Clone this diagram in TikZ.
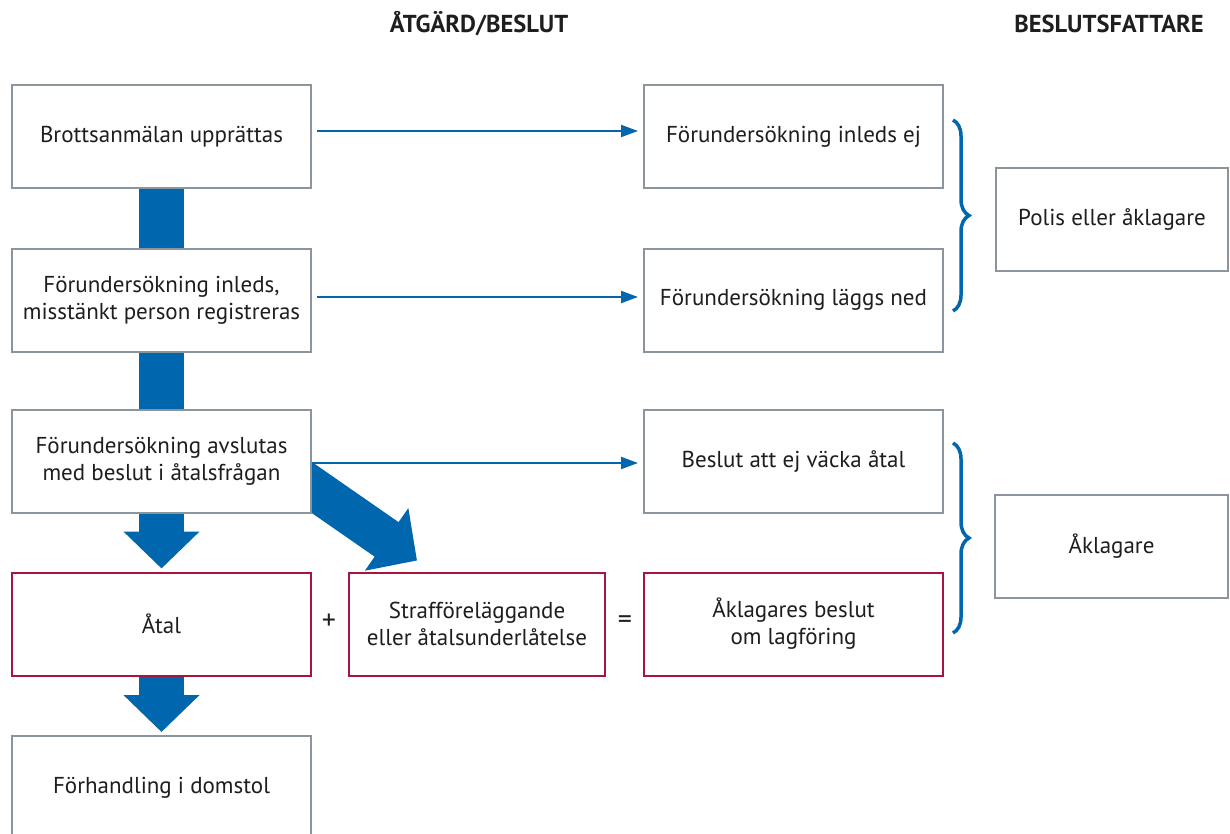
\documentclass[tikz,border=0pt]{standalone}
\usepackage{fontspec}
\setmainfont{PT Sans}
\usetikzlibrary{arrows.meta,decorations.pathreplacing,calc}
\pgfdeclarelayer{bg}
\pgfsetlayers{bg,main}
\definecolor{fblue}{HTML}{0066AE}
\definecolor{fgray}{HTML}{8C949D}
\definecolor{fred}{HTML}{A8133F}
\definecolor{ftext}{HTML}{1E1E1E}
\begin{document}
\begin{tikzpicture}[x=1pt,y=-1pt,
 box/.style={draw=fgray, line width=2pt, fill=white, minimum width=299pt, minimum height=103pt, align=center, font=\fontsize{23}{27}\selectfont, text=ftext, inner sep=0pt},
 rbox/.style={box, draw=fred},
 hdr/.style={font=\fontsize{24.5}{28}\selectfont\bfseries, text=ftext},
 thinarrow/.style={draw=fblue, line width=2pt, -{Triangle[length=17pt,width=12pt]}},
 bar/.style={draw=fblue, line width=45pt},
 fat/.style={draw=fblue, line width=45pt, -{Triangle[length=37pt,width=74pt]}},
 bracestyle/.style={draw=fblue, line width=3.5pt, decorate, decoration={brace, amplitude=16pt}},
 op/.style={font=\fontsize{28}{30}\selectfont, text=ftext}
]
\path[use as bounding box] (0,0) rectangle (1230,834);
\clip (0,0) rectangle (1230,834);

\node[hdr] (h1) at (479,24) {ÅTGÄRD/BESLUT};
\node[hdr] (h2) at (1109,24) {BESLUTSFATTARE};

\node[box] (b1) at (161.5,136.5) {Brottsanmälan upprättas};
\node[box] (b2) at (161.5,300) {Förundersökning inleds,\\misstänkt person registreras};
\node[box] (b3) at (161.5,461.5) {Förundersökning avslutas\\med beslut i åtalsfrågan};
\node[rbox] (atal) at (161.5,624) {Åtal};
\node[box] (forh) at (161.5,787.5) {Förhandling i domstol};

\node[box] (m1) at (793.5,136.5) {Förundersökning inleds ej};
\node[box] (m2) at (793.5,300) {Förundersökning läggs ned};
\node[box] (m3) at (793.5,461.5) {Beslut att ej väcka åtal};
\node[rbox] (m4) at (793.5,624) {Åklagares beslut\\om lagföring};
\node[rbox, minimum width=256pt] (straff) at (477,624) {Strafföreläggande\\eller åtalsunderlåtelse};

\node[box, minimum width=232pt] (polis) at (1112,219.5) {Polis eller åklagare};
\node[box, minimum width=233pt] (akl) at (1111.5,546) {Åklagare};

\node[op] (plus) at (329,622) {+};
\node[op] (eq) at (625,622) {=};

\coordinate (dstart) at ($(b3.east)+(-16,15)$);
\coordinate (dtip) at ($(straff.north west)+(69,-11)$);

\begin{pgfonlayer}{bg}
\draw[bar] (b1.south) -- (b2.north);
\draw[bar] (b2.south) -- (b3.north);
\draw[fat] (b3.south) -- ([yshift=3pt]atal.north);
\draw[fat] (atal.south) -- ([yshift=3pt]forh.north);
\draw[fat, line width=42pt] (dstart) -- (dtip);
\end{pgfonlayer}

\draw[thinarrow] ([xshift=5pt,yshift=5.5pt]b1.east) -- ([xshift=-5pt,yshift=5.5pt]m1.west);
\draw[thinarrow] ([xshift=5pt,yshift=3pt]b2.east) -- ([xshift=-5pt,yshift=3pt]m2.west);
\draw[thinarrow] ([yshift=-1.5pt]b3.east) -- ([xshift=-5pt,yshift=-1.5pt]m3.west);

\draw[bracestyle] ($(m1.east)+(9,-16.5)$) -- ($(m2.east)+(9,11)$);
\draw[bracestyle] ($(m3.east)+(9,-18.5)$) -- ($(m4.east)+(9,9)$);
\end{tikzpicture}
\end{document}
